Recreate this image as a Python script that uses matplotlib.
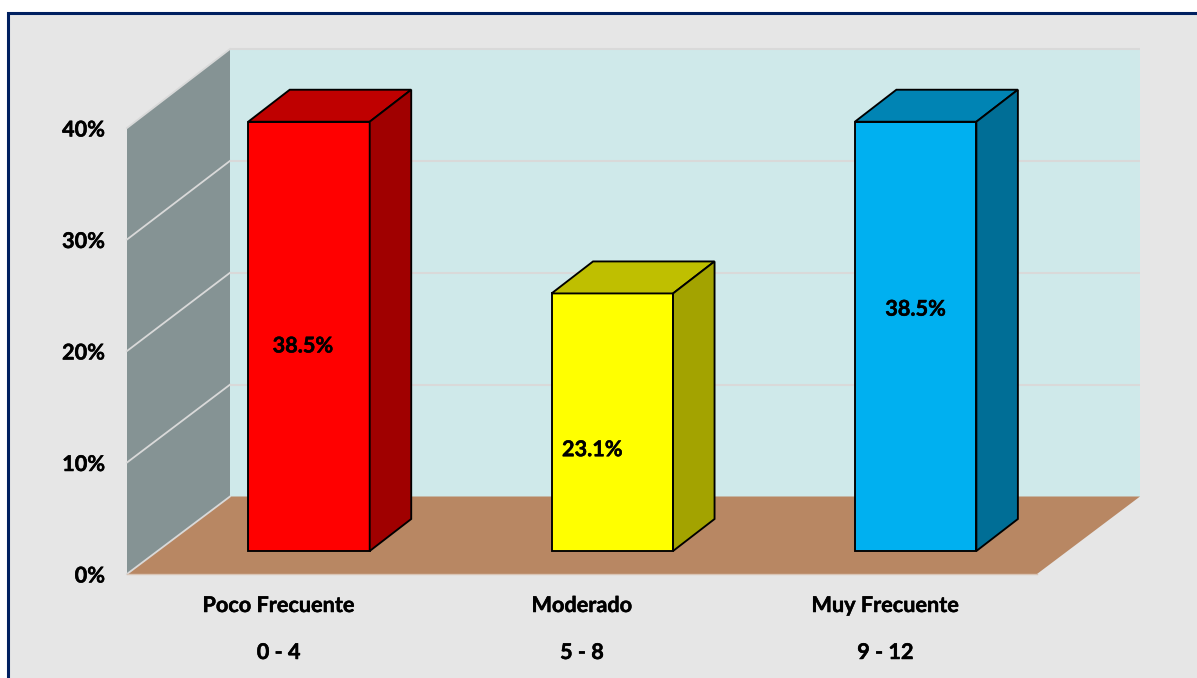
import matplotlib
matplotlib.use("Agg")
import matplotlib.pyplot as plt
import matplotlib.patheffects as pe
from matplotlib.patches import Rectangle
from matplotlib.ticker import PercentFormatter

# -------------------------
# DATA
# -------------------------
categories = ["Poco Frecuente", "Moderado", "Muy Frecuente"]
ranges = ["0 - 4", "5 - 8", "9 - 12"]
values = [38.5, 23.1, 38.5]
value_labels = ["38.5%", "23.1%", "38.5%"]
y_ticks = [0, 10, 20, 30, 40]

front_colors = ["#FF0000", "#FFFF00", "#00B0F0"]
top_colors = ["#BF0000", "#BFBF00", "#0084B4"]
side_colors = ["#A00000", "#A3A300", "#006E96"]

plt.rcParams["font.family"] = ["Lato", "DejaVu Sans"]
plt.rcParams["font.weight"] = "bold"

W, H = 1197, 678
FS = 15.6
heavy = [pe.withStroke(linewidth=0.35, foreground="black")]

fig = plt.figure(figsize=(W / 100, H / 100), dpi=100, facecolor="white")

# outer frame, runs off the right and bottom edge
fig.add_artist(Rectangle((8 / W, -0.1), 1.2, 1 + 0.1 - 13 / H, transform=fig.transFigure,
                         facecolor="#E6E6E6", edgecolor="#002060", linewidth=2.2, zorder=-1))

# axes = front plane of the 3D box
ax = fig.add_axes([127 / W, (H - 574) / H, 910 / W, 446 / H])
ax.patch.set_visible(False)
ax.set_xlim(0, 3)
ax.set_ylim(0, 40)
for s in ax.spines.values():
    s.set_visible(False)

px_x = 3 / 910
px_y = 40 / 446
depth_x = 103 * px_x
depth_y = 77.5 * px_y
back_scale = 447.5 / 446  # back wall comes out a little taller than the front plane

# -------------------------
# WALLS AND FLOOR
# -------------------------
ymax = y_ticks[-1]
back_top = ymax * back_scale + depth_y
ax.fill([0, depth_x, depth_x, 0], [0, depth_y, back_top, ymax],
        color="#859394", lw=0, clip_on=False, zorder=1)
ax.fill([depth_x, 3 + depth_x, 3 + depth_x, depth_x], [depth_y, depth_y, back_top, back_top],
        color="#CFE9EA", lw=0, clip_on=False, zorder=1)
ax.fill([0, 3, 3 + depth_x, depth_x], [0, 0, depth_y, depth_y],
        color="#B88763", lw=0, clip_on=False, zorder=2)

for t in y_ticks[1:]:
    yb = t * back_scale + depth_y
    ax.plot([0, depth_x], [t, yb], color="#D9D9D9", lw=1.3, clip_on=False, zorder=2)
    ax.plot([depth_x, 3 + depth_x], [yb, yb], color="#D9D9D9", lw=1.5,
            clip_on=False, zorder=2, solid_capstyle="butt")
ax.plot([0, depth_x], [0, depth_y], color="#D9D9D9", lw=1.3, clip_on=False, zorder=3)
ax.plot([0, 3], [0, 0], color="#D9C4B4", lw=1, clip_on=False, zorder=3)

# -------------------------
# BARS
# -------------------------
bar_w = 121.5 * px_x
bar_dx = 41.5 * px_x
bar_dy = 32 * px_y
base = 23 * px_y
shift = 30.3 * px_x
edge = dict(edgecolor="black", linewidth=1.35, joinstyle="miter", clip_on=False, zorder=5)

for i, v in enumerate(values):
    xc = i + 0.5 + shift
    x0, x1 = xc - bar_w / 2, xc + bar_w / 2
    y1 = base + v
    ax.bar(xc, v, width=bar_w, bottom=base, color=front_colors[i], **edge)
    ax.fill([x0, x1, x1 + bar_dx, x0 + bar_dx], [y1, y1, y1 + bar_dy, y1 + bar_dy],
            facecolor=top_colors[i], **edge)
    ax.fill([x1, x1 + bar_dx, x1 + bar_dx, x1], [base, base + bar_dy, y1 + bar_dy, y1],
            facecolor=side_colors[i], **edge)

# data labels sit where they were dragged to in the original
label_x = [-6, -20, 0]
label_y = [20.45, 11.15, 23.75]
for i, txt in enumerate(value_labels):
    ax.text(i + 0.5 + shift + label_x[i] * px_x, label_y[i], txt, ha="center", va="center",
            fontsize=FS, fontweight="bold", color="black", zorder=6, path_effects=heavy)

# -------------------------
# AXIS TEXT
# -------------------------
ax.set_yticks(y_ticks)
ax.yaxis.set_major_formatter(PercentFormatter(decimals=0))
ax.tick_params(axis="y", length=0, pad=15.8, labelsize=FS)
for lab in ax.get_yticklabels():
    lab.set_path_effects(heavy)
ax.set_xticks([])

for i, (c, r) in enumerate(zip(categories, ranges)):
    ax.annotate(c, (i + 0.5, 0), xytext=(0, -31.5 * 0.72), textcoords="offset points",
                ha="center", va="center", fontsize=FS, fontweight="bold",
                annotation_clip=False, path_effects=heavy)
    ax.annotate(r, (i + 0.5, 0), xytext=(0, -78.5 * 0.72), textcoords="offset points",
                ha="center", va="center", fontsize=FS, fontweight="bold",
                annotation_clip=False, path_effects=heavy)

plt.savefig("out.png", dpi=100)
